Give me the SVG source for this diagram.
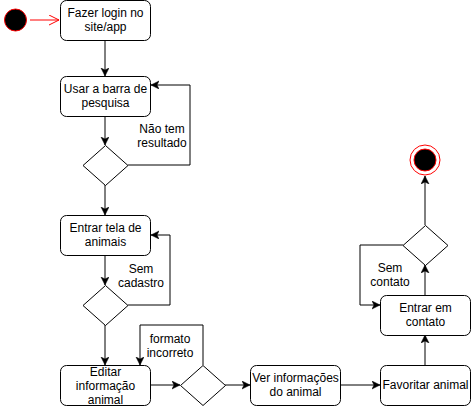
<svg xmlns="http://www.w3.org/2000/svg" width="471" height="407" viewBox="0 0 471 407">
<defs>
<style>
.n{fill:#fff;stroke:#000;stroke-width:1}
.t{font-family:"Liberation Sans",Arial,sans-serif;font-size:12px;fill:#000;text-anchor:middle}
.c{fill:none;stroke:#000;stroke-width:1}
</style>
<marker id="a" markerWidth="10" markerHeight="10" refX="8" refY="4" orient="auto" markerUnits="userSpaceOnUse">
<path d="M0,0 L8,4 L0,8 L2,4 Z" fill="#000" stroke="#000" stroke-width="0.5"/>
</marker>
<marker id="o" markerWidth="12" markerHeight="12" refX="10" refY="5" orient="auto" markerUnits="userSpaceOnUse">
<path d="M0,0 L10,5 L0,10" fill="none" stroke="#f00" stroke-width="1"/>
</marker>
</defs>
<rect width="471" height="407" fill="#fff"/>
<g id="connectors">
<line x1="30" y1="20" x2="59" y2="20" stroke="#f00" stroke-width="1" marker-end="url(#o)"/>
<line class="c" x1="105" y1="40" x2="105" y2="76" marker-end="url(#a)"/>
<line class="c" x1="105" y1="116" x2="105" y2="145" marker-end="url(#a)"/>
<polyline class="c" points="128,165 190,165 190,85 151,85" marker-end="url(#a)"/>
<line class="c" x1="105" y1="185" x2="105" y2="215" marker-end="url(#a)"/>
<line class="c" x1="105" y1="255" x2="105" y2="285" marker-end="url(#a)"/>
<polyline class="c" points="128,305 170,305 170,235 151,235" marker-end="url(#a)"/>
<line class="c" x1="105" y1="325" x2="105" y2="365" marker-end="url(#a)"/>
<line class="c" x1="150" y1="385" x2="180" y2="385" marker-end="url(#a)"/>
<polyline class="c" points="203,365 203,325 140,325 140,365" marker-end="url(#a)"/>
<line class="c" x1="225" y1="385" x2="250" y2="385" marker-end="url(#a)"/>
<line class="c" x1="340" y1="385" x2="380" y2="385" marker-end="url(#a)"/>
<line class="c" x1="425" y1="365" x2="425" y2="335" marker-end="url(#a)"/>
<line class="c" x1="425" y1="295" x2="425" y2="265" marker-end="url(#a)"/>
<polyline class="c" points="403,245 360,245 360,305 380,305" marker-end="url(#a)"/>
<line class="c" x1="425" y1="225" x2="425" y2="176" marker-end="url(#a)"/>
</g>
<g id="start">
<circle cx="15.5" cy="20" r="11" fill="#000" stroke="#f00" stroke-width="1"/>
</g>
<g id="end">
<circle cx="425" cy="160" r="15" fill="#fff" stroke="#f00" stroke-width="1"/>
<circle cx="425" cy="160" r="11" fill="#000" stroke="#f00" stroke-width="1"/>
</g>
<g id="login">
<rect class="n" x="60.5" y="0.5" width="90" height="40" rx="6"/>
<text class="t" x="105.5" y="17">Fazer login no</text>
<text class="t" x="105.5" y="31">site/app</text>
</g>
<g id="pesquisa">
<rect class="n" x="60.5" y="76.5" width="90" height="40" rx="6"/>
<text class="t" x="105.5" y="93">Usar a barra de</text>
<text class="t" x="105.5" y="107">pesquisa</text>
</g>
<g id="d1">
<polygon class="n" points="105.5,145.5 128,165.5 105.5,185.5 83,165.5"/>
</g>
<g id="lbl1">
<text class="t" x="162" y="133">Não tem</text>
<text class="t" x="162" y="147">resultado</text>
</g>
<g id="animais">
<rect class="n" x="60.5" y="215.5" width="90" height="40" rx="6"/>
<text class="t" x="105.5" y="232">Entrar tela de</text>
<text class="t" x="105.5" y="246">animais</text>
</g>
<g id="d2">
<polygon class="n" points="105.5,285.5 128,305.5 105.5,325.5 83,305.5"/>
</g>
<g id="lbl2">
<text class="t" x="141" y="273">Sem</text>
<text class="t" x="141" y="287">cadastro</text>
</g>
<g id="editar">
<rect class="n" x="60.5" y="365.5" width="90" height="40" rx="6"/>
<text class="t" x="105.5" y="376">Editar</text>
<text class="t" x="105.5" y="390">informação</text>
<text class="t" x="105.5" y="404">animal</text>
</g>
<g id="d3">
<polygon class="n" points="203,365.5 225.5,385.5 203,405.5 180.5,385.5"/>
</g>
<g id="lbl3">
<text class="t" x="170" y="343">formato</text>
<text class="t" x="170" y="357">incorreto</text>
</g>
<g id="ver">
<rect class="n" x="250.5" y="365.5" width="90" height="40" rx="6"/>
<text class="t" x="295.5" y="382">Ver informações</text>
<text class="t" x="295.5" y="396">do animal</text>
</g>
<g id="favoritar">
<rect class="n" x="380.5" y="365.5" width="90" height="40" rx="6"/>
<text class="t" x="425.5" y="389">Favoritar animal</text>
</g>
<g id="contato">
<rect class="n" x="380.5" y="295.5" width="90" height="40" rx="6"/>
<text class="t" x="425.5" y="312">Entrar em</text>
<text class="t" x="425.5" y="326">contato</text>
</g>
<g id="d4">
<polygon class="n" points="425.5,225.5 448,245.5 425.5,265.5 403,245.5"/>
</g>
<g id="lbl4">
<text class="t" x="390" y="272">Sem</text>
<text class="t" x="390" y="286">contato</text>
</g>
</svg>
